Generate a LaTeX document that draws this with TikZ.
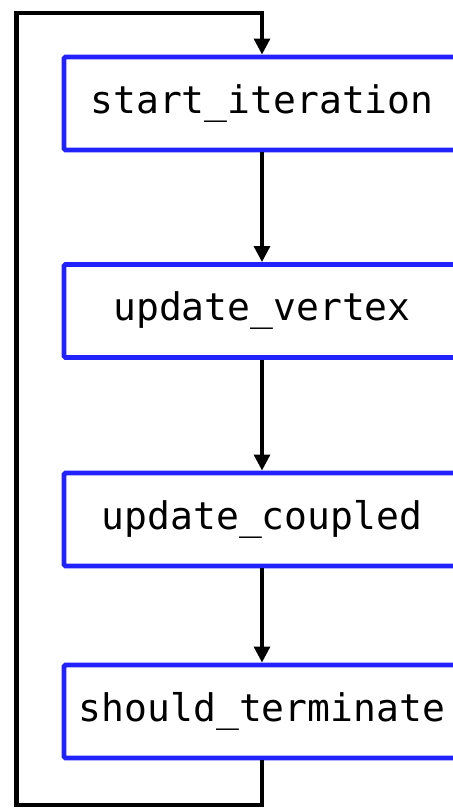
\documentclass[tikz,border=0pt]{standalone}
\usepackage{fontspec}
\setmonofont{DejaVu Sans Mono}
\usetikzlibrary{arrows.meta,positioning}
\definecolor{stepblue}{RGB}{34,34,255}
\tikzset{
  stepbox/.style={draw=stepblue,line width=2.4pt,rounded corners=0.8pt,fill=white,
    minimum width=198pt,minimum height=46.5pt,inner sep=0pt,
    font=\ttfamily\fontsize{19}{23}\selectfont},
  flow/.style={black,line width=2.4pt},
  flowarrow/.style={flow,-{Triangle[length=8pt,width=7.8pt]}}
}
\begin{document}
\begin{tikzpicture}[x=0.5pt,y=-0.5pt]
\useasboundingbox (0,0) rectangle (452,809);
\node[stepbox] (start) at (262,103.5) {start\_iteration};
\node[stepbox] (vertex) at (262,311) {update\_vertex};
\node[stepbox] (coupled) at (262,519.5) {update\_coupled};
\node[stepbox] (terminate) at (262,711.5) {should\_terminate};
\coordinate (loopbot) at (16.5,805);
\coordinate (looptop) at (16.5,13);
\draw[flowarrow] (start) -- (vertex);
\draw[flowarrow] (vertex) -- (coupled);
\draw[flowarrow] (coupled) -- (terminate);
\draw[flowarrow] (terminate.south) |- (loopbot) -- (looptop) -| (start.north);
\end{tikzpicture}
\end{document}
